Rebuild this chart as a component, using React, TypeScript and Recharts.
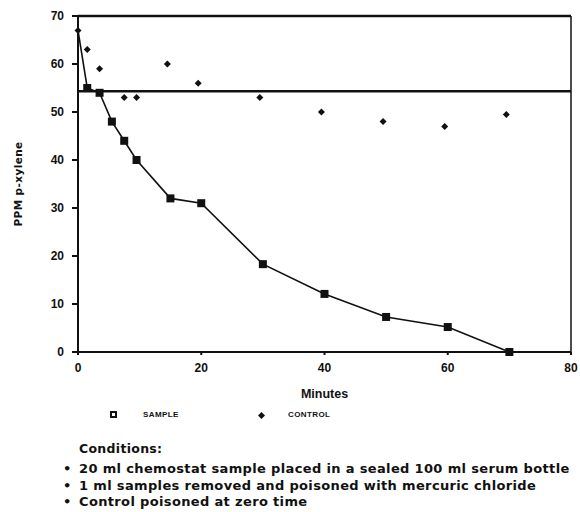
import React from 'react';
import {
  ComposedChart,
  Line,
  Scatter,
  XAxis,
  YAxis,
  ReferenceLine,
  Label
} from 'recharts';

// p-xylene concentration over time, sample vs. poisoned control
const sampleMinutes = [0, 1.5, 3.5, 5.5, 7.5, 9.5, 15, 20, 30, 40, 50, 60, 70];
const samplePpm = [67, 55, 54, 48, 44, 40, 32, 31, 18.3, 12.1, 7.3, 5.2, 0];

const controlMinutes = [0, 1.5, 3.5, 7.5, 9.5, 14.5, 19.5, 29.5, 39.5, 49.5, 59.5, 69.5];
const controlPpm = [67, 63, 59, 53, 53, 60, 56, 53, 50, 48, 47, 49.5];

const controlMean = 54.3;

const xTicks = [0, 20, 40, 60, 80];
const yTicks = [0, 10, 20, 30, 40, 50, 60, 70];

const conditions = [
  '20 ml chemostat sample placed in a sealed 100 ml serum bottle',
  '1 ml samples removed and poisoned with mercuric chloride',
  'Control poisoned at zero time'
];

const sampleData = sampleMinutes.map((t, i) => ({ t, ppm: samplePpm[i] }));
const controlData = controlMinutes.map((t, i) => ({ t, ppm: controlPpm[i] }));

const FONT = '"Liberation Sans", Arial, sans-serif';
const WIDE = '"DejaVu Sans", Verdana, sans-serif';

const SquareDot = (props: any) => {
  const { cx, cy, payload } = props;
  if (cx == null || cy == null || payload?.t === 0) return <g />;
  return <rect x={cx - 4} y={cy - 4} width={8} height={8} fill="#111" />;
};

const DiamondDot = (props: any) => {
  const { cx, cy } = props;
  if (cx == null || cy == null) return <g />;
  return (
    <path
      d={`M${cx},${cy - 3.5} L${cx + 3.5},${cy} L${cx},${cy + 3.5} L${cx - 3.5},${cy} Z`}
      fill="#111"
    />
  );
};

const tickStyle = { fontFamily: FONT, fontWeight: 700, fontSize: 12, fill: '#111' };

const App = () => {
  return (
    <div style={{ position: 'absolute', left: 0, top: 0, width: 580, height: 512, background: '#fff', overflow: 'hidden' }}>
      <ComposedChart
        width={580}
        height={512}
        margin={{ top: 16, right: 9, left: 0, bottom: 120 }}
      >
        <XAxis
          type="number"
          dataKey="t"
          domain={[0, 80]}
          ticks={xTicks}
          height={40}
          stroke="#111"
          strokeWidth={2}
          tickSize={3}
          tickMargin={8}
          tick={tickStyle}
          allowDuplicatedCategory={false}
        >
          <Label
            value="Minutes"
            position="insideBottom"
            offset={-6}
            style={{ fontFamily: FONT, fontWeight: 700, fontSize: 12.5, fill: '#111' }}
          />
        </XAxis>
        <YAxis
          type="number"
          dataKey="ppm"
          domain={[0, 70]}
          ticks={yTicks}
          width={78}
          stroke="#111"
          strokeWidth={2}
          tickSize={6}
          tickMargin={8}
          tick={tickStyle}
        >
          <Label
            value="PPM p-xylene"
            angle={-90}
            position="insideLeft"
            offset={18}
            style={{ fontFamily: WIDE, fontWeight: 700, fontSize: 10.5, letterSpacing: 0.4, fill: '#111', textAnchor: 'middle' }}
          />
        </YAxis>
        <ReferenceLine y={70} stroke="#111" strokeWidth={2.5} />
        <ReferenceLine x={80} stroke="#111" strokeWidth={1.5} />
        <ReferenceLine y={controlMean} stroke="#111" strokeWidth={2.5} />
        <Line
          data={sampleData}
          dataKey="ppm"
          type="linear"
          stroke="#111"
          strokeWidth={1.6}
          dot={<SquareDot />}
          activeDot={false}
          isAnimationActive={false}
        />
        <Scatter
          data={controlData}
          dataKey="ppm"
          shape={<DiamondDot />}
          isAnimationActive={false}
        />
      </ComposedChart>

      {/* legend row */}
      <div style={{ position: 'absolute', top: 410, left: 0, fontFamily: FONT, fontWeight: 700, fontSize: 8, letterSpacing: 0.4, color: '#111', lineHeight: '10px' }}>
        <span style={{ position: 'absolute', left: 110, top: 1, width: 7, height: 7, border: '2px solid #111', boxSizing: 'border-box' }} />
        <span style={{ position: 'absolute', left: 143, top: 0, whiteSpace: 'nowrap' }}>SAMPLE</span>
        <svg style={{ position: 'absolute', left: 258, top: 2 }} width={7} height={7}>
          <path d="M3.5,0 L7,3.5 L3.5,7 L0,3.5 Z" fill="#111" />
        </svg>
        <span style={{ position: 'absolute', left: 288, top: 0, whiteSpace: 'nowrap' }}>CONTROL</span>
      </div>

      <div style={{ position: 'absolute', top: 441, left: 79, fontFamily: WIDE, fontWeight: 700, fontSize: 12.5, letterSpacing: 0.3, color: '#111', whiteSpace: 'nowrap' }}>
        Conditions:
      </div>
      {conditions.map((c, i) => (
        <div
          key={c}
          style={{
            position: 'absolute',
            top: 461 + i * 16.5,
            left: 63,
            fontFamily: WIDE,
            fontWeight: 700,
            fontSize: 13,
            letterSpacing: 0.35,
            lineHeight: '16px',
            color: '#111',
            whiteSpace: 'nowrap'
          }}
        >
          <span style={{ display: 'inline-block', width: 16 }}>•</span>
          {c}
        </div>
      ))}
    </div>
  );
};

export default App;
